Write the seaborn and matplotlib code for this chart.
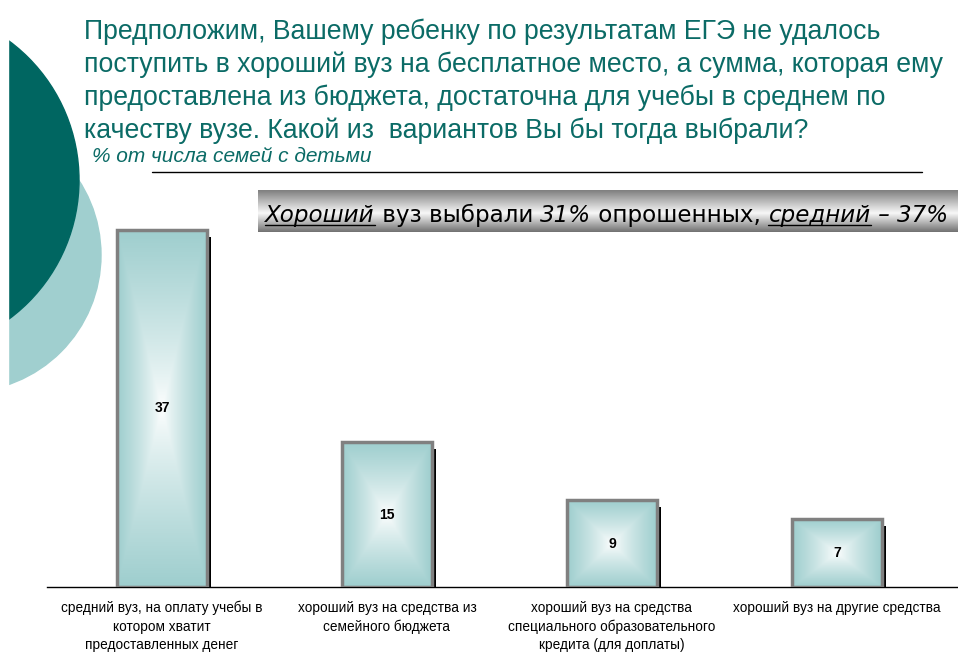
import numpy as np
import pandas as pd
import matplotlib
matplotlib.use("Agg")
import matplotlib.pyplot as plt
import matplotlib.patheffects as pe
from matplotlib.patches import Circle, Rectangle
import seaborn as sns

# ---- data ----
categories = [
    "средний вуз, на оплату учебы в\nкотором хватит\nпредоставленных денег",
    "хороший вуз на средства из\nсемейного бюджета",
    "хороший вуз на средства\nспециального образовательного\nкредита (для доплаты)",
    "хороший вуз на другие средства",
]
values = [37, 15, 9, 7]
title_lines = [
    "Предположим, Вашему ребенку по результатам ЕГЭ не удалось",
    "поступить в хороший вуз на бесплатное место, а сумма, которая ему",
    "предоставлена из бюджета, достаточна для учебы в среднем по",
    "качеству вузе. Какой из  вариантов Вы бы тогда выбрали?",
]
subtitle = "% от числа семей с детьми"
banner_parts = [
    ("Хороший", "italic", True),
    (" вуз выбрали ", "normal", False),
    ("31%", "italic", False),
    (" опрошенных, ", "normal", False),
    ("средний", "italic", True),
    (" – 37%", "italic", False),
]

sns.set_theme(style="white")
plt.rcParams["font.family"] = ["Liberation Sans", "DejaVu Sans"]

W, H = 958, 655
fig = plt.figure(figsize=(W / 100, H / 100), dpi=100)
fig.patch.set_facecolor("white")

# background overlay axes in pixel coordinates
bg = fig.add_axes([0, 0, 1, 1], zorder=0)
bg.set_xlim(0, W)
bg.set_ylim(H, 0)
bg.axis("off")

TEAL_DARK = "#006661"
TEAL_LIGHT = "#a0cfcf"
TITLE_C = "#0b6b66"

bg.add_patch(Circle((-36, 255), 137, color=TEAL_LIGHT, zorder=1))
bg.add_patch(Circle((-94, 180), 173, color=TEAL_DARK, zorder=2))
bg.add_patch(Rectangle((0, 0), 8, H, color="white", zorder=3))

for i, line in enumerate(title_lines):
    bg.text(84, 32 + i * 33, line, fontsize=19.2, color=TITLE_C, va="center",
            ha="left", zorder=5)
bg.text(92, 157, subtitle, fontsize=15, style="italic", color=TITLE_C,
        va="center", ha="left", zorder=5)
bg.plot([152, 922], [172, 172], color="black", lw=1, zorder=5)

# banner gradient
gy = np.linspace(0, 1, 64)
gvals = np.interp(gy, [0, 0.55, 1], [0.5, 0.97, 0.45])
bg.imshow(gvals[:, None], cmap="gray", vmin=0, vmax=1, extent=(258, 958, 232, 190),
          aspect="auto", zorder=4, interpolation="bilinear")
bg.set_xlim(0, W)
bg.set_ylim(H, 0)

renderer = fig.canvas.get_renderer()
x = 265
base_y = 222
fs_b = 16.6
for txt, sty, und in banner_parts:
    t = bg.text(x, base_y, txt, fontsize=fs_b, style=sty, color="black",
                family="DejaVu Sans", va="baseline", ha="left", zorder=6)
    probe = bg.text(0, 0, "|" + txt + "|", fontsize=fs_b, style=sty, family="DejaVu Sans")
    probe2 = bg.text(0, 0, "||", fontsize=fs_b, style=sty, family="DejaVu Sans")
    w = probe.get_window_extent(renderer).width - probe2.get_window_extent(renderer).width
    probe.remove(); probe2.remove()
    if und:
        bg.plot([x, x + w], [base_y + 3, base_y + 3], color="black", lw=1, zorder=6)
    x += w

# ---- main chart ----
ax_left, ax_right = 47, 958
ax_bottom_px, ax_top_px = 587, 201
ax = fig.add_axes([ax_left / W, (H - ax_bottom_px) / H, (ax_right - ax_left) / W,
                   (ax_bottom_px - ax_top_px) / H], zorder=2)
ax.patch.set_alpha(0)

df = pd.DataFrame({"cat": categories, "val": values})
sns.barplot(data=df, x="cat", y="val", ax=ax, width=0.4, color=TEAL_LIGHT,
            linewidth=0, saturation=1)

teal = np.array([158, 206, 206]) / 255.0
nx, ny = 120, 240
u = np.linspace(-1, 1, nx)[None, :]
v = np.linspace(-1, 1, ny)[:, None]
tgrid = np.maximum(np.abs(u), np.abs(v))
f = np.clip(tgrid, 0, 1) ** 0.8
img = (1 - f)[..., None] * np.ones(3) + f[..., None] * teal

for p, val in zip(ax.patches, values):
    p.set_zorder(1)
    p.set_path_effects([pe.SimplePatchShadow(offset=(3, -5), shadow_rgbFace="black", alpha=1.0),
                        pe.Normal()])
    x0, w = p.get_x(), p.get_width()
    im = ax.imshow(img, extent=(x0, x0 + w, 0, val), aspect="auto", zorder=2,
                   interpolation="bilinear")
    im.set_clip_path(p)
    ax.add_patch(Rectangle((x0, 0), w, val, fill=False, edgecolor="#808080",
                           linewidth=2.5, zorder=3))
    ax.text(x0 + w / 2, val / 2, f"{val}", ha="center", va="center", fontsize=10,
            fontweight="bold", color="black", zorder=4)

ax.set_xlim(-0.511, 3.538)
ax.set_ylim(0, 40)
ax.set_aspect("auto")
for s in ["top", "right", "left"]:
    ax.spines[s].set_visible(False)
ax.spines["bottom"].set_color("black")
ax.spines["bottom"].set_linewidth(1)
ax.set_yticks([])
ax.set_xlabel("")
ax.set_ylabel("")
ax.tick_params(axis="x", length=0, pad=10)
ax.set_xticks(range(len(categories)))
ax.set_xticklabels(categories, fontsize=9.8, color="black", linespacing=1.38,
                   va="top", ha="center")

fig.savefig("out.png", dpi=100)
